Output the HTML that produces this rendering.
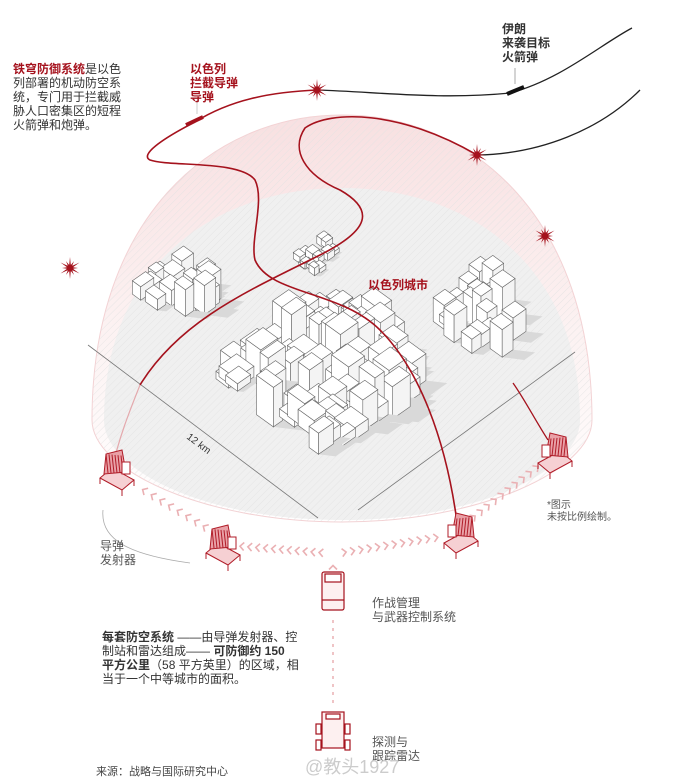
<!DOCTYPE html>
<html><head><meta charset="utf-8"><style>
body{margin:0;background:#fff;font-family:"Liberation Sans","Noto Sans CJK SC",sans-serif}
.t{position:absolute;font-size:12px;line-height:14px;color:#333}
.r{color:#a5121d;font-weight:bold}
</style></head><body>
<div style="position:relative;width:690px;height:783px;overflow:hidden">
<svg id="s" width="690" height="783" style="position:absolute;left:0;top:0">
<defs>
<pattern id="h" width="5" height="5" patternUnits="userSpaceOnUse" patternTransform="rotate(45)"><line x1="0" y1="0" x2="0" y2="5" stroke="#e2e2e2" stroke-width="0.8"/></pattern>
<linearGradient id="g" x1="0" y1="0" x2="0" y2="1"><stop offset="0" stop-color="#f8e0e1"/><stop offset="0.5" stop-color="#fcf1f1"/><stop offset="1" stop-color="#fff"/></linearGradient>
</defs>
<path d="M92 420 C92 220 210 115 342 115 C474 115 592 220 592 420 C592 470 480 522 342 522 C204 522 92 470 92 420Z" fill="url(#g)" stroke="#f3d2d4" stroke-width="1"/>
<path d="M104 420 C104 265 215 188 342 188 C469 188 580 265 580 420 C580 470 480 520 342 520 C204 520 104 470 104 420Z" fill="#f0f0f0"/>
<path d="M92 420 C92 220 210 115 342 115 C474 115 592 220 592 420 C592 470 480 522 342 522 C204 522 92 470 92 420Z" fill="url(#h)"/>
<line x1="88" y1="345" x2="318" y2="518" stroke="#777" stroke-width="0.8"/>
<line x1="358" y1="510" x2="575" y2="352" stroke="#777" stroke-width="0.8"/>
<text x="186" y="438" font-size="10" fill="#333" transform="rotate(37 186 438)">12 km</text>
<g id="city"></g>
<path d="M317 90 C380 92 440 100 510 93 C560 80 600 45 632 28" fill="none" stroke="#222" stroke-width="1.3"/>
<path d="M477 155 C540 154 600 130 640 90" fill="none" stroke="#222" stroke-width="1.3"/>
<line x1="507" y1="94" x2="524" y2="87" stroke="#111" stroke-width="4"/>
<path d="M317 90 C270 92 230 100 195 122 C160 140 140 155 150 160 C170 167 240 160 255 180 C265 200 250 240 255 260 C270 295 340 290 380 330 C420 370 445 440 456 515" fill="none" stroke="#a5121d" stroke-width="1.6"/>
<path d="M140 385 C180 320 250 290 320 255 C370 230 375 210 340 190 C305 175 290 150 305 128 C330 110 400 110 477 155" fill="none" stroke="#a5121d" stroke-width="1.6"/>
<path d="M140 385 C130 410 118 440 112 470" fill="none" stroke="#e4a9ad" stroke-width="1.2"/>
<path d="M513 383 C525 400 535 420 548 440" fill="none" stroke="#a5121d" stroke-width="1.3"/>
<line x1="186" y1="125" x2="203" y2="117" stroke="#a5121d" stroke-width="4"/>
<line x1="197" y1="100" x2="197" y2="114" stroke="#ccc"/>
<line x1="515" y1="68" x2="515" y2="84" stroke="#aaa"/>
<g id="stars" fill="#a5121d"></g>
<g id="chev" fill="none" stroke="#eab0b3" stroke-width="1.6"></g>
<path d="M103 510 C100 540 130 555 190 563" fill="none" stroke="#aaa" stroke-width="0.8"/>
<g id="trucks"></g>
<g fill="#fff" stroke="#a5121d" stroke-width="1.2">
<rect x="322" y="572" width="22" height="38" rx="2" fill="#fdf0f0"/>
<rect x="325" y="574" width="16" height="8"/>
<line x1="322" y1="600" x2="344" y2="600"/>
</g>
<line x1="333" y1="620" x2="333" y2="708" stroke="#eab0b3" stroke-width="1.5" stroke-dasharray="3 5"/>
<g fill="#fff" stroke="#a5121d" stroke-width="1.2">
<rect x="322" y="712" width="22" height="36" fill="#fdf0f0"/>
<rect x="316" y="724" width="5" height="10"/><rect x="345" y="724" width="5" height="10"/>
<rect x="316" y="740" width="5" height="10"/><rect x="345" y="740" width="5" height="10"/>
<rect x="326" y="714" width="14" height="5"/>
</g>
</svg>
<div class="t" style="left:13px;top:62px;width:112px"><span class="r">铁穹防御系统</span>是以色列部署的机动防空系统，专门用于拦截威胁人口密集区的短程火箭弹和炮弹。</div>
<div class="t r" style="left:190px;top:62px">以色列<br>拦截导弹<br>导弹</div>
<div class="t" style="left:502px;top:22px;font-weight:bold">伊朗<br>来袭目标<br>火箭弹</div>
<div class="t r" style="left:368px;top:278px">以色列城市</div>
<div class="t" style="left:100px;top:539px;color:#555">导弹<br>发射器</div>
<div class="t" style="left:547px;top:500px;font-size:10px;line-height:12px;color:#555">*图示<br>未按比例绘制。</div>
<div class="t" style="left:372px;top:596px;color:#555">作战管理<br>与武器控制系统</div>
<div class="t" style="left:102px;top:630px;width:197px"><b>每套防空系统</b> ——由导弹发射器、控制站和雷达组成—— <b>可防御约 150 平方公里</b>（58 平方英里）的区域，相当于一个中等城市的面积。</div>
<div class="t" style="left:372px;top:735px;color:#555">探测与<br>跟踪雷达</div>
<div class="t" style="left:96px;top:765px;font-size:11px;color:#444">来源：战略与国际研究中心</div>
<div class="t" style="left:305px;top:757px;font-size:18px;line-height:20px;color:#ccc">@教头1927</div>
</div>
<script>
var NS="http://www.w3.org/2000/svg";
function el(p,tag,a){var e=document.createElementNS(NS,tag);for(var k in a)e.setAttribute(k,a[k]);p.appendChild(e);return e;}
var seed=7;function rnd(){seed=(seed*16807)%2147483647;return seed/2147483647;}
var U=[0.81,0.585],V=[0.82,-0.57];
var boxes=[];
function region(ox,oy,S,T,n,hmin,hmax,smin,smax,centerBoost){
 for(var i=0;i<n;i++){var a=smin+rnd()*(smax-smin),b=smin+rnd()*(smax-smin);
  var s=rnd()*(S-a),t=rnd()*(T-b);
  var c=1-Math.abs((s+a/2)/S-0.5)-Math.abs((t+b/2)/T-0.5);
  var h=hmin+rnd()*(hmax-hmin)*(centerBoost?Math.max(0.25,c):1);
  boxes.push([ox+s*U[0]+t*V[0],oy+s*U[1]+t*V[1],a,b,h]);}
}
region(205,378,150,150,90,6,75,10,22,true);
region(126,296,70,70,22,6,30,8,16,false);
region(427,325,75,75,22,6,35,8,16,false);
region(286,256,40,40,14,3,8,5,9,false);
boxes.sort(function(p,q){return (p[1]+p[2]*U[1])-(q[1]+q[2]*U[1])});
var city=document.getElementById("city");
boxes.forEach(function(bx){var x=bx[0],y=bx[1],a=bx[2],b=bx[3],h=bx[4];
 var P=[x,y],B=[x+a*U[0],y+a*U[1]],R=[B[0]+b*V[0],B[1]+b*V[1]],T=[x+b*V[0],y+b*V[1]];
 function up(p){return [p[0],p[1]-h];}
 function pts(arr){return arr.map(function(p){return p[0].toFixed(1)+","+p[1].toFixed(1)}).join(" ");}
 el(city,"polygon",{points:pts([B,R,[R[0]+h*0.8,R[1]+h*0.1],[B[0]+h*0.8,B[1]+h*0.1]]),fill:"#d9d9d9"});
 el(city,"polygon",{points:pts([P,B,up(B),up(P)]),fill:"#fff",stroke:"#666","stroke-width":0.6});
 el(city,"polygon",{points:pts([B,R,up(R),up(B)]),fill:"#f4f4f4",stroke:"#666","stroke-width":0.6});
 el(city,"polygon",{points:pts([up(P),up(B),up(R),up(T)]),fill:"#fff",stroke:"#666","stroke-width":0.6});
});
var st=document.getElementById("stars");
[[317,90],[477,155],[545,236],[70,268]].forEach(function(c){var p=[];for(var i=0;i<24;i++){var r=i%2?3:(8+(i%4)*1.5);var an=i*Math.PI/12;p.push((c[0]+r*Math.cos(an)).toFixed(1)+","+(c[1]+r*Math.sin(an)).toFixed(1));}
 el(st,"polygon",{points:p.join(" ")});el(st,"circle",{cx:c[0],cy:c[1],r:3.5});});
var ch=document.getElementById("chev");
function chev(x,y,ang){el(ch,"path",{d:"M-2 -4 L2 0 L-2 4",transform:"translate("+x+","+y+") rotate("+ang+")"});}
function line(x1,y1,x2,y2,n){var ang=Math.atan2(y2-y1,x2-x1)*180/Math.PI;for(var i=0;i<n;i++){var t=(i+0.5)/n;chev(x1+(x2-x1)*t,y1+(y2-y1)*t,ang);}}
line(325,553,238,546,11);line(218,535,140,488,9);line(340,553,440,537,12);line(470,520,540,465,10);line(333,570,333,565,1);
var tr=document.getElementById("trucks");
function truck(x,y,flip){var g=el(tr,"g",{transform:"translate("+x+","+y+") scale("+(flip?-1:1)+",1)",stroke:"#b01c28",fill:"none","stroke-width":1});
 el(g,"polygon",{points:"-16,8 6,20 18,10 -4,-2",fill:"#f6d0d3"});
 el(g,"polygon",{points:"-12,4 -10,-16 6,-20 10,2",fill:"#e9a1a7"});
 for(var i=0;i<6;i++)el(g,"line",{x1:-10+i*3,y1:-16+i*0.3,x2:-8+i*3,y2:3});
 el(g,"rect",{x:6,y:-8,width:8,height:12,fill:"#fff"});
 el(g,"line",{x1:-16,y1:8,x2:-16,y2:14});el(g,"line",{x1:18,y1:10,x2:18,y2:16});el(g,"line",{x1:6,y1:20,x2:6,y2:26});}
truck(116,470,false);truck(222,545,false);truck(462,533,true);truck(556,453,true);
</script>
</body></html>
